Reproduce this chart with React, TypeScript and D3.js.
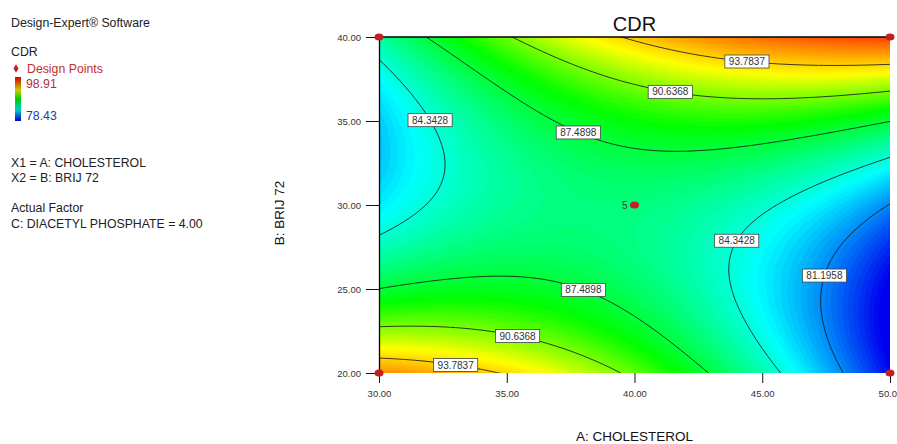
import { useEffect, useRef } from 'react'
import * as d3 from 'd3'

// CDR contour plot (Design-Expert style). Values below were read off the
// picture at the 5x5 tick lattice; the surface between them comes from a
// least-squares polynomial fit, the same way the software draws its model.
const CHOLESTEROL = [30, 35, 40, 45, 50]   // A
const BRIJ72 = [20, 25, 30, 35, 40]        // B
// one row per BRIJ 72 level (20 -> 40), columns follow CHOLESTEROL
const CDR_ROWS = [
  [95.5, 93.5, 90.3, 85.1, 78.6],
  [87.4, 88.3, 86.7, 83.2, 78.3],
  [82.9, 86.4, 85.9, 84.4, 81.3],
  [82.5, 86.5, 88.6, 88.7, 87.6],
  [85.4, 90.6, 94.3, 96.1, 97.5],
]
const CONTOUR_LEVELS = [81.1958, 84.3428, 87.4898, 90.6368, 93.7837]
const CDR_MIN = 78.43
const CDR_MAX = 98.91
const DESIGN_A = [30, 30, 50, 50, 40]
const DESIGN_B = [20, 40, 20, 40, 30]
const DESIGN_REPS = [1, 1, 1, 1, 5]
// where each contour carries its value label (in A / B units)
const LABEL_LEVEL = [93.7837, 90.6368, 87.4898, 84.3428, 84.3428, 81.1958, 87.4898, 90.6368, 93.7837]
const LABEL_A = [44.5, 41.5, 37.8, 31.2, 43.5, 47.3, 38.0, 35.5, 33.0]
const LABEL_B = [38.9, 37.1, 34.4, 34.4, 28.4, 25.9, 25.1, 22.6, 20.8]

const FONT = '"Liberation Sans", Arial, sans-serif'
const RAINBOW = ['#0000f0', '#00ffff', '#00ff00', '#ffff00', '#ff0000']
const RAINBOW_AT = [0, 0.25, 0.5, 0.7, 1]

const terms = (a: number, u: number) => [1, a, u, a * u, a * a, u * u, a * a * u, a * u * u, a * a * u * u]
const codeA = (v: number) => (v - 40) / 10
const codeB = (v: number) => (v - 30) / 10

function fitSurface() {
  const X: number[][] = []
  const Y: number[] = []
  BRIJ72.forEach((b, j) => CHOLESTEROL.forEach((a, i) => {
    X.push(terms(codeA(a), codeB(b)))
    Y.push(CDR_ROWS[j][i])
  }))
  const k = X[0].length
  const M = d3.range(k).map(r => d3.range(k + 1).map(c =>
    c < k ? d3.sum(X, x => x[r] * x[c]) : d3.sum(X.map((x, n) => x[r] * Y[n]))))
  for (let p = 0; p < k; p++) {
    let best = p
    for (let r = p + 1; r < k; r++) if (Math.abs(M[r][p]) > Math.abs(M[best][p])) best = r
    ;[M[p], M[best]] = [M[best], M[p]]
    for (let r = 0; r < k; r++) {
      if (r === p) continue
      const f = M[r][p] / M[p][p]
      for (let c = p; c <= k; c++) M[r][c] -= f * M[p][c]
    }
  }
  const beta = M.map((row, r) => row[k] / row[r])
  return (A: number, B: number) => d3.sum(terms(codeA(A), codeB(B)).map((t, i) => t * beta[i]))
}

export default function App() {
  const ref = useRef<SVGSVGElement>(null)

  useEffect(() => {
    const svg = d3.select(ref.current)
    svg.selectAll('*').remove()

    const x = d3.scaleLinear().domain([30, 50]).range([379, 890])
    const y = d3.scaleLinear().domain([20, 40]).range([373, 37])
    const stops = RAINBOW_AT.map(t => CDR_MIN + t * (CDR_MAX - CDR_MIN))
    const color = d3.scaleLinear<string>().domain(stops).range(RAINBOW).clamp(true)

    // sample the fitted model on a grid a bit larger than the plot, then clip
    const cdr = fitSurface()
    const step = 0.2, A0 = 29, B0 = 19
    const nx = Math.round((51 - A0) / step) + 1
    const ny = Math.round((41 - B0) / step) + 1
    const values: number[] = new Array(nx * ny)
    for (let j = 0; j < ny; j++) for (let i = 0; i < nx; i++) values[j * nx + i] = cdr(A0 + i * step, B0 + j * step)

    const gx = (g: number) => x(A0 + (g - 0.5) * step)
    const gy = (g: number) => y(B0 + (g - 0.5) * step)
    const path = d3.geoPath(d3.geoTransform({
      point(px: number, py: number) { this.stream.point(gx(px), gy(py)) },
    }))

    const defs = svg.append('defs')
    defs.append('clipPath').attr('id', 'plot-clip')
      .append('rect').attr('x', x(30)).attr('y', y(40)).attr('width', x(50) - x(30)).attr('height', y(20) - y(40))

    const plot = svg.append('g').attr('clip-path', 'url(#plot-clip)')
    const lo = Math.floor(d3.min(values)!), hi = Math.ceil(d3.max(values)!)
    const bands = d3.contours().size([nx, ny]).thresholds(d3.range(lo, hi, 0.25))(values)
    plot.selectAll('path.band').data(bands).join('path')
      .attr('class', 'band').attr('d', d => path(d as any))
      .attr('fill', d => color(d.value + 0.125)).attr('stroke', 'none')

    const lines = d3.contours().size([nx, ny]).thresholds(CONTOUR_LEVELS)(values)
    plot.selectAll('path.iso').data(lines).join('path')
      .attr('class', 'iso').attr('d', d => path(d as any))
      .attr('fill', 'none').attr('stroke', '#1a1a1a').attr('stroke-width', 0.85)

    // axes
    const axisStyle = (s: any) => {
      s.selectAll('text').attr('fill', '#333').attr('font-size', 9.5).attr('font-family', FONT)
      s.selectAll('line').attr('stroke', '#111')
    }
    svg.append('g').attr('transform', `translate(${x(30)},0)`)
      .call(d3.axisLeft(y).tickValues(BRIJ72).tickSize(13).tickSizeOuter(0).tickPadding(5).tickFormat(d3.format('.2f')))
      .call(axisStyle)
      .call(s => s.select('.domain').attr('stroke', '#000').attr('stroke-width', 1.3))
    svg.append('g').attr('transform', `translate(0,${y(20)})`)
      .call(d3.axisBottom(x).tickValues(CHOLESTEROL).tickSize(10).tickSizeOuter(0).tickPadding(7).tickFormat(d3.format('.2f')))
      .call(axisStyle)
      .call(s => s.select('.domain').remove())
    svg.append('line')
      .attr('x1', x(30)).attr('x2', x(50)).attr('y1', y(40)).attr('y2', y(40))
      .attr('stroke', '#000').attr('stroke-width', 1.3)

    // contour value labels, snapped onto their line
    const labels = svg.append('g').attr('font-family', FONT).attr('font-size', 10)
    LABEL_LEVEL.forEach((lv, li) => {
      const c = lines.find(l => l.value === lv)
      if (!c) return
      const tx = x(LABEL_A[li]), ty = y(LABEL_B[li])
      let best: [number, number] = [tx, ty], bd = Infinity
      c.coordinates.forEach(poly => poly.forEach(ring => ring.forEach(([px, py]) => {
        const X = gx(px), Y = gy(py)
        if (X < x(30) + 2 || X > x(50) - 2 || Y < y(40) + 2 || Y > y(20) - 2) return
        const d = (X - tx) ** 2 + (Y - ty) ** 2
        if (d < bd) { bd = d; best = [X, Y] }
      })))
      const g = labels.append('g').attr('transform', `translate(${best[0]},${best[1]})`)
      const rect = g.append('rect')
      const t = g.append('text').attr('text-anchor', 'middle').attr('dy', '0.36em').attr('fill', '#333')
        .text(lv.toFixed(4))
      const w = (t.node() as SVGTextElement).getComputedTextLength() + 8
      rect.attr('x', -w / 2).attr('y', -6.5).attr('width', w).attr('height', 13)
        .attr('fill', '#fff').attr('stroke', '#444').attr('stroke-width', 0.8)
    })

    // design points
    DESIGN_A.forEach((a, i) => {
      svg.append('ellipse').attr('cx', x(a)).attr('cy', y(DESIGN_B[i])).attr('rx', 4.5).attr('ry', 3.6)
        .attr('fill', '#c42020')
      if (DESIGN_REPS[i] > 1) {
        svg.append('text').attr('x', x(a) - 7).attr('y', y(DESIGN_B[i]) + 3.5)
          .attr('text-anchor', 'end').attr('font-family', FONT).attr('font-size', 10).attr('fill', '#4a3a20')
          .text(DESIGN_REPS[i])
      }
    })

    // titles
    svg.append('text').attr('x', (x(30) + x(50)) / 2).attr('y', 31).attr('text-anchor', 'middle')
      .attr('font-family', FONT).attr('font-size', 20).attr('fill', '#111').text('CDR')
    svg.append('text').attr('x', (x(30) + x(50)) / 2).attr('y', 441).attr('text-anchor', 'middle')
      .attr('font-family', FONT).attr('font-size', 13.5).attr('fill', '#111').text('A: CHOLESTEROL')
    svg.append('text').attr('transform', `translate(284,213) rotate(-90)`).attr('text-anchor', 'middle')
      .attr('font-family', FONT).attr('font-size', 13.5).attr('fill', '#111').text('B: BRIJ 72')

    // side legend
    const grad = defs.append('linearGradient').attr('id', 'cdr-bar').attr('x1', 0).attr('x2', 0).attr('y1', 1).attr('y2', 0)
    RAINBOW.forEach((c, i) => grad.append('stop').attr('offset', RAINBOW_AT[i]).attr('stop-color', d3.color(c)!.darker(0.6).formatHex()))
    const leg = svg.append('g').attr('font-family', FONT).attr('font-size', 12.3).attr('fill', '#222')
    const line = (tx: number, ty: number, s: string, fill = '#222') =>
      leg.append('text').attr('x', tx).attr('y', ty).attr('fill', fill).text(s)
    line(11, 27, 'Design-Expert® Software')
    line(11, 56, 'CDR')
    leg.append('path').attr('d', d3.symbol(d3.symbolDiamond, 22)()).attr('transform', 'translate(16,68.5)').attr('fill', '#b82020')
    line(27, 73, 'Design Points', '#c03030')
    leg.append('rect').attr('x', 15).attr('y', 77).attr('width', 6).attr('height', 44).attr('fill', 'url(#cdr-bar)')
    line(26, 88, CDR_MAX.toFixed(2), '#b03030')
    line(26, 120, CDR_MIN.toFixed(2), '#2040a0')
    line(11, 167, 'X1 = A: CHOLESTEROL')
    line(11, 182, 'X2 = B: BRIJ 72')
    line(11, 212, 'Actual Factor')
    line(11, 228, 'C: DIACETYL PHOSPHATE = 4.00')
  }, [])

  return <svg ref={ref} width={897} height={444} style={{ position: 'absolute', left: 0, top: 0, background: '#fff' }} />
}
